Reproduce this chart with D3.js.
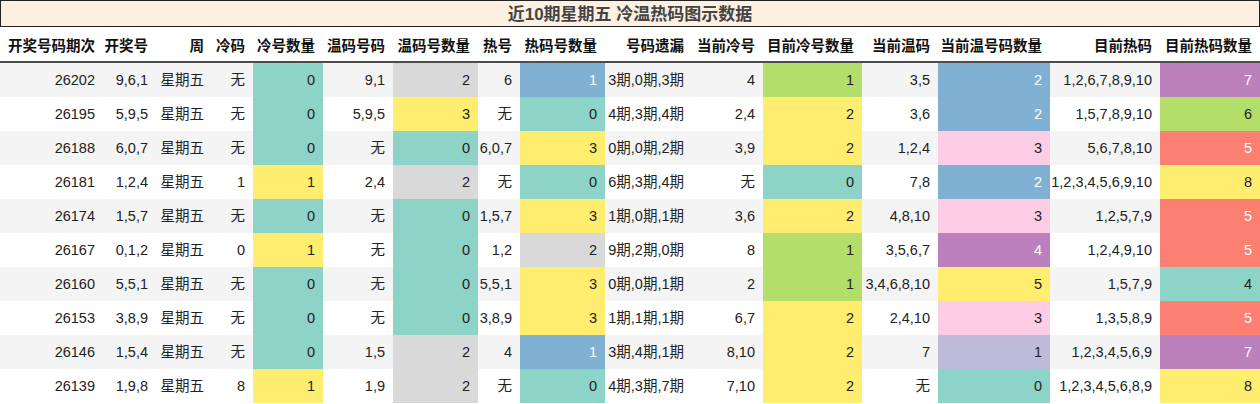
<!DOCTYPE html><html><head><meta charset="utf-8"><script src="https://cdn.jsdelivr.net/npm/d3@7"></script>
<style>body{margin:0;background:#fff}</style></head><body><svg id="c" width="1260" height="404"></svg><script>
const title="近10期星期五 冷温热码图示数据";
const headers=["开奖号码期次","开奖号","周","冷码","冷号数量","温码号码","温码号数量","热号","热码号数量","号码遗漏","当前冷号","目前冷号数量","当前温码","当前温号码数量","目前热码","目前热码数量"];
const periods=["26202","26195","26188","26181","26174","26167","26160","26153","26146","26139"];
const draws=["9,6,1","5,9,5","6,0,7","1,2,4","1,5,7","0,1,2","5,5,1","3,8,9","1,5,4","1,9,8"];
const weekday=Array(10).fill("星期五");
const cold=["无","无","无","1","无","0","无","无","无","8"];
const coldCount=[0,0,0,1,0,1,0,0,0,1];
const warm=["9,1","5,9,5","无","2,4","无","无","无","无","1,5","1,9"];
const warmCount=[2,3,0,2,0,0,0,0,2,2];
const hot=["6","无","6,0,7","无","1,5,7","1,2","5,5,1","3,8,9","4","无"];
const hotCount=[1,0,3,0,3,2,3,3,1,0];
const miss=["3期,0期,3期","4期,3期,4期","0期,0期,2期","6期,3期,4期","1期,0期,1期","9期,2期,0期","0期,0期,1期","1期,1期,1期","3期,4期,1期","4期,3期,7期"];
const curCold=["4","2,4","3,9","无","3,6","8","2","6,7","8,10","7,10"];
const curColdCount=[1,2,2,0,2,1,1,2,2,2];
const curWarm=["3,5","3,6","1,2,4","7,8","4,8,10","3,5,6,7","3,4,6,8,10","2,4,10","7","无"];
const curWarmCount=[2,2,3,2,3,4,5,3,1,0];
const curHot=["1,2,6,7,8,9,10","1,5,7,8,9,10","5,6,7,8,10","1,2,3,4,5,6,9,10","1,2,5,7,9","1,2,4,9,10","1,5,7,9","1,3,5,8,9","1,2,3,4,5,6,9","1,2,3,4,5,6,8,9"];
const curHotCount=[7,6,5,8,5,5,4,5,7,8];
const cols=[periods,draws,weekday,cold,coldCount,warm,warmCount,hot,hotCount,miss,curCold,curColdCount,curWarm,curWarmCount,curHot,curHotCount];
const edges=[0,103,156,212,253,323,393,478,520,605,692,763,862,938,1050,1160,1260];
const T="#8dd3c7",Y="#ffed6f",G="#d9d9d9",B="#80b1d3",GR="#b3de69",P="#fccde5",PU="#bc80bd",L="#bebada",S="#fb8072";
const colorMaps={4:d3.scaleOrdinal([0,1],[T,Y]),6:d3.scaleOrdinal([0,2,3],[T,G,Y]),8:d3.scaleOrdinal([0,1,2,3],[T,B,G,Y]),
11:d3.scaleOrdinal([0,1,2],[T,GR,Y]),13:d3.scaleOrdinal([0,1,2,3,4,5],[T,L,B,P,PU,Y]),15:d3.scaleOrdinal([4,5,6,7,8],[T,S,GR,PU,Y])};
const darkBg=new Set([B,PU,S]);
const svg=d3.select("#c");const font="'Liberation Sans Narrow','Liberation Sans','Noto Sans CJK SC',sans-serif";
const y=d3.scaleBand().domain(d3.range(10)).range([63,403]);
svg.append("rect").attr("x",0.5).attr("y",0.5).attr("width",1259).attr("height",26).attr("fill","#fdf0e0").attr("stroke","#222");
svg.append("text").attr("x",630).attr("y",20).attr("text-anchor","middle").attr("font-family",font).attr("font-size",17).attr("font-weight","bold").attr("fill","#444").text(title);
headers.forEach((h,i)=>svg.append("text").attr("x",edges[i+1]-8).attr("y",51).attr("text-anchor","end").attr("font-family",font).attr("font-size",14.5).attr("font-weight","bold").attr("fill","#111").text(h));
const rows=svg.selectAll("g.r").data(d3.range(10)).join("g").attr("transform",r=>`translate(0,${y(r)})`);
rows.append("rect").attr("width",1260).attr("height",y.bandwidth()).attr("fill",r=>r%2?"#fff":"#f4f4f4");
cols.forEach((c,i)=>{
  rows.each(function(r){const g=d3.select(this);let fill=null;
    if(colorMaps[i]){fill=colorMaps[i](c[r]);g.append("rect").attr("x",edges[i]).attr("width",edges[i+1]-edges[i]).attr("height",y.bandwidth()).attr("fill",fill);}
    g.append("text").attr("x",edges[i+1]-8).attr("y",y.bandwidth()/2+5).attr("text-anchor","end").attr("font-family",font).attr("font-size",14.5).attr("fill",fill&&darkBg.has(fill)?"#fff":"#222").text(c[r]);});
});
svg.append("line").attr("x1",0).attr("x2",1260).attr("y1",62).attr("y2",62).attr("stroke","#111").attr("stroke-width",1.5);
</script></body></html>
